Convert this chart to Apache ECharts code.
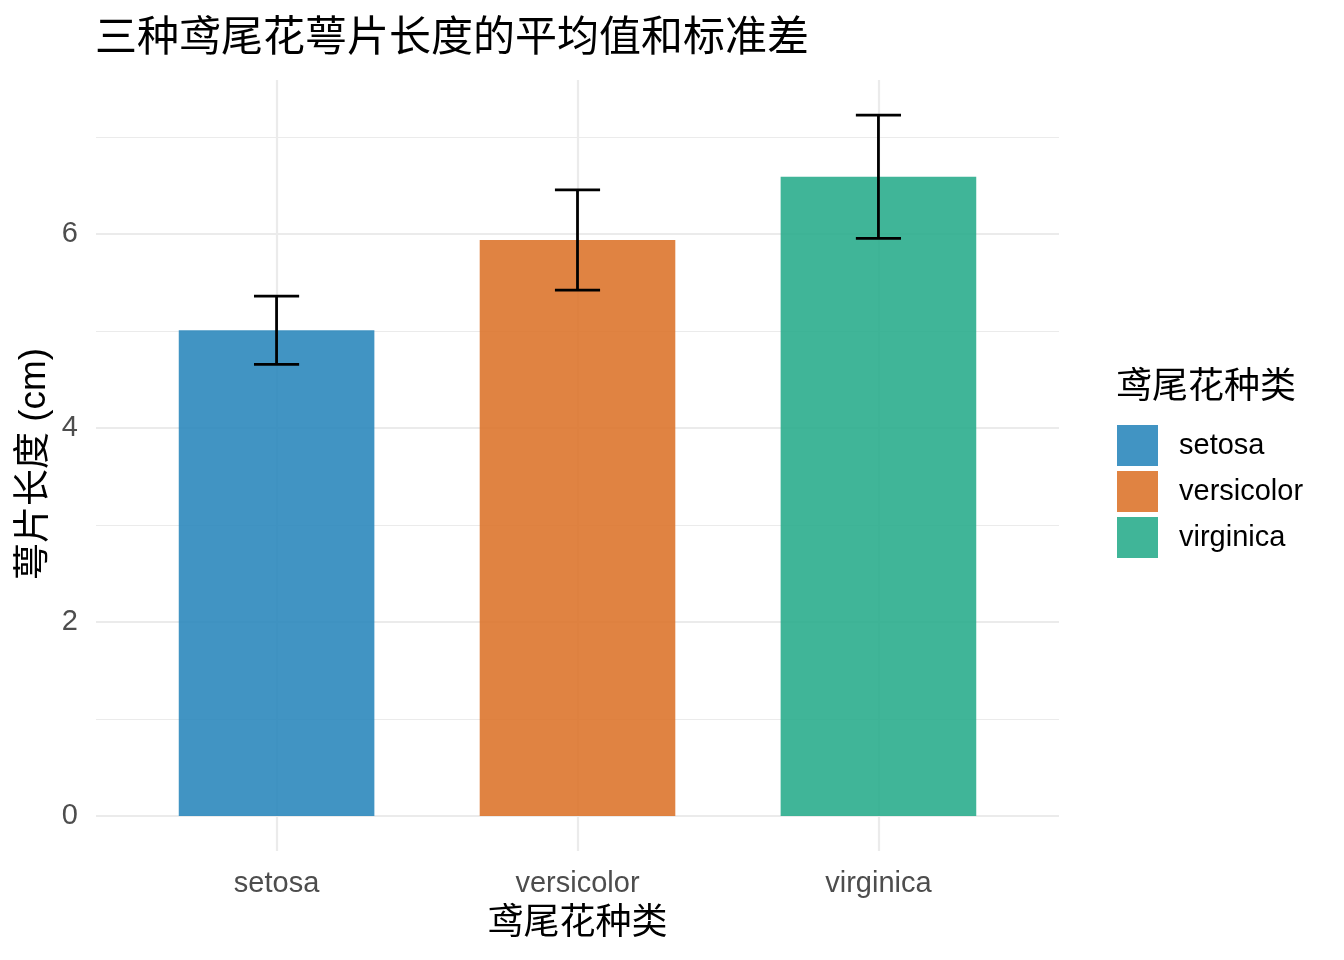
<!DOCTYPE html>
<html>
<head>
<meta charset="utf-8">
<script src="https://cdn.jsdelivr.net/npm/echarts@6/dist/echarts.min.js"></script>
<style>
  html, body { margin: 0; padding: 0; background: #fff; }
  #chart { width: 1344px; height: 960px; }
</style>
</head>
<body>
<div id="chart"></div>
<script>
// iris sepal length, mean and sd per species
const species = ["setosa", "versicolor", "virginica"];
const meanLength = [5.006, 5.936, 6.588];
const sdLength = [0.352, 0.516, 0.636];
const yTicks = [0, 2, 4, 6];

const palette = ["rgba(44,136,189,0.9)", "rgba(221,118,45,0.9)", "rgba(43,173,141,0.9)"];
const FONT = "'Liberation Sans', 'Noto Sans CJK SC', sans-serif";

// panel geometry (ggplot style, 5% expansion on the y range)
const panelLeft = 96, panelRight = 1059, panelTop = 80, zeroY = 816;
const topVal = Math.max(...meanLength.map((m, i) => m + sdLength[i]));
const yUpper = topVal * 1.05;
const yLower = -topVal * 0.05;
const unit = (zeroY - panelTop) / yUpper;
const bandPx = (panelRight - panelLeft) / 3.2;
const catLeft = panelLeft + 0.6 * bandPx;
const catRight = panelRight - 0.6 * bandPx;

const renderBar = function(params, api) {
  const x = api.value(0);
  const m = api.value(1);
  const s = api.value(2);
  const band = api.size([1, 0])[0];
  const bw = band * 0.65;
  const cap = band * 0.075;
  const base = api.coord([x, 0]);
  const top = api.coord([x, m]);
  const hi = api.coord([x, m + s]);
  const lo = api.coord([x, m - s]);
  const line = { stroke: "#000", lineWidth: 2.8 };
  return {
    type: "group",
    children: [
      { type: "rect", shape: { x: base[0] - bw / 2, y: top[1], width: bw, height: base[1] - top[1] },
        style: { fill: api.visual("color") } },
      { type: "line", shape: { x1: hi[0], y1: hi[1], x2: lo[0], y2: lo[1] }, style: line },
      { type: "line", shape: { x1: hi[0] - cap, y1: hi[1], x2: hi[0] + cap, y2: hi[1] }, style: line },
      { type: "line", shape: { x1: lo[0] - cap, y1: lo[1], x2: lo[0] + cap, y2: lo[1] }, style: line },
    ],
  };
};

const chart = echarts.init(document.getElementById("chart"), null, { renderer: "canvas" });

chart.setOption({
  backgroundColor: "#fff",
  animation: false,
  title: [
    {
      text: "三种鸢尾花萼片长度的平均值和标准差",
      left: 95, top: 18, padding: 0,
      textStyle: { fontFamily: FONT, fontSize: 42, fontWeight: "normal", color: "#000", lineHeight: 42 },
    },
    {
      text: "鸢尾花种类",
      left: 1116, top: 370, padding: 0,
      textStyle: { fontFamily: FONT, fontSize: 36, fontWeight: "normal", color: "#000", lineHeight: 36 },
    },
  ],
  legend: {
    orient: "vertical",
    left: 1117, top: 425, padding: 0,
    itemWidth: 41, itemHeight: 41, itemGap: 5,
    icon: "rect",
    data: species,
    textStyle: { fontFamily: FONT, fontSize: 29, color: "#000", padding: [9, 0, 0, 16] },
  },
  graphic: [
    {
      type: "text",
      x: 35, y: 464,
      rotation: Math.PI / 2,
      style: {
        text: "萼片长度 (cm)",
        font: "37px " + FONT,
        fill: "#000",
        align: "center",
        verticalAlign: "middle",
      },
    },
  ],
  grid: [
    // background grid: horizontal lines and y labels
    { left: panelLeft, right: 1344 - panelRight, bottom: 960 - zeroY, top: zeroY - 8 * unit },
    // data panel
    { left: catLeft, right: 1344 - catRight, top: panelTop, bottom: 960 - (zeroY - yLower * unit) },
  ],
  xAxis: [
    { gridIndex: 0, type: "value", min: 0, max: 1, show: false },
    {
      gridIndex: 1,
      type: "category",
      data: species,
      boundaryGap: false,
      axisLine: { show: false },
      axisTick: { show: false },
      axisLabel: { fontFamily: FONT, fontSize: 29, color: "#4d4d4d", margin: 18 },
      splitLine: { show: true, lineStyle: { color: "#ebebeb", width: 2.2 } },
      name: "鸢尾花种类",
      nameLocation: "middle",
      nameGap: 55,
      nameTextStyle: { fontFamily: FONT, fontSize: 36, color: "#000" },
    },
  ],
  yAxis: [
    {
      gridIndex: 0,
      type: "value",
      min: 0, max: 8, interval: 2,
      axisLine: { show: false },
      axisTick: { show: false },
      axisLabel: {
        fontFamily: FONT, fontSize: 29, color: "#4d4d4d", margin: 18,
        padding: [8, 0, 0, 0],
        formatter: (v) => (yTicks.includes(v) ? String(v) : ""),
      },
      splitLine: {
        show: true,
        lineStyle: { color: ["#ebebeb", "#ebebeb", "#ebebeb", "#ebebeb", "rgba(0,0,0,0)"], width: 2.2 },
      },
      minorTick: { show: false, splitNumber: 2 },
      minorSplitLine: { show: true, lineStyle: { color: "#ebebeb", width: 1.1 } },
    },
    { gridIndex: 1, type: "value", min: yLower, max: yUpper, show: false },
  ],
  series: species.map((name, i) => ({
    name: name,
    type: "custom",
    xAxisIndex: 1,
    yAxisIndex: 1,
    clip: false,
    itemStyle: { color: palette[i] },
    renderItem: renderBar,
    encode: { x: 0, y: 1 },
    data: [[name, meanLength[i], sdLength[i]]],
  })),
});
</script>
</body>
</html>
